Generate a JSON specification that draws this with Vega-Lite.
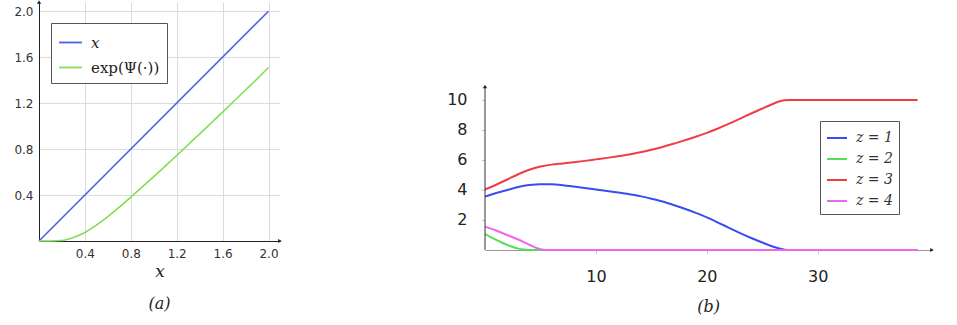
{
  "$schema": "https://vega.github.io/schema/vega-lite/v6.json",
  "padding": {"left": 13, "top": 0, "right": 0, "bottom": 0},
  "background": "white",
  "bounds": "flush",
  "spacing": 205,
  "config": {"view": {"stroke": null}},
  "datasets": {
    "a": [
      {"series": "x", "x": 0, "y": 0},
      {"series": "x", "x": 2.0, "y": 2.0},
      {"series": "exp(Ψ(·))", "x": 0, "y": 0},
      {"series": "exp(Ψ(·))", "x": 0.1, "y": 0},
      {"series": "exp(Ψ(·))", "x": 0.2, "y": 0.004},
      {"series": "exp(Ψ(·))", "x": 0.3, "y": 0.03},
      {"series": "exp(Ψ(·))", "x": 0.4, "y": 0.074},
      {"series": "exp(Ψ(·))", "x": 0.5, "y": 0.138},
      {"series": "exp(Ψ(·))", "x": 0.6, "y": 0.212},
      {"series": "exp(Ψ(·))", "x": 0.7, "y": 0.294},
      {"series": "exp(Ψ(·))", "x": 0.8, "y": 0.382},
      {"series": "exp(Ψ(·))", "x": 0.9, "y": 0.471},
      {"series": "exp(Ψ(·))", "x": 1.0, "y": 0.561},
      {"series": "exp(Ψ(·))", "x": 1.1, "y": 0.652},
      {"series": "exp(Ψ(·))", "x": 1.2, "y": 0.744},
      {"series": "exp(Ψ(·))", "x": 1.3, "y": 0.838},
      {"series": "exp(Ψ(·))", "x": 1.4, "y": 0.932},
      {"series": "exp(Ψ(·))", "x": 1.5, "y": 1.027},
      {"series": "exp(Ψ(·))", "x": 1.6, "y": 1.122},
      {"series": "exp(Ψ(·))", "x": 1.7, "y": 1.218},
      {"series": "exp(Ψ(·))", "x": 1.8, "y": 1.314},
      {"series": "exp(Ψ(·))", "x": 1.9, "y": 1.41},
      {"series": "exp(Ψ(·))", "x": 2.0, "y": 1.51}
    ],
    "b": [
      {"series": "z = 1", "t": 0, "v": 3.56}, {"series": "z = 1", "t": 1, "v": 3.8}, {"series": "z = 1", "t": 2, "v": 4.0},
      {"series": "z = 1", "t": 3, "v": 4.2}, {"series": "z = 1", "t": 4, "v": 4.33}, {"series": "z = 1", "t": 5, "v": 4.39},
      {"series": "z = 1", "t": 6, "v": 4.38}, {"series": "z = 1", "t": 7, "v": 4.32}, {"series": "z = 1", "t": 8, "v": 4.23},
      {"series": "z = 1", "t": 9, "v": 4.13}, {"series": "z = 1", "t": 10, "v": 4.03}, {"series": "z = 1", "t": 11, "v": 3.93},
      {"series": "z = 1", "t": 12, "v": 3.83}, {"series": "z = 1", "t": 13, "v": 3.72}, {"series": "z = 1", "t": 14, "v": 3.59},
      {"series": "z = 1", "t": 15, "v": 3.42}, {"series": "z = 1", "t": 16, "v": 3.23}, {"series": "z = 1", "t": 17, "v": 3.0},
      {"series": "z = 1", "t": 18, "v": 2.75}, {"series": "z = 1", "t": 19, "v": 2.47}, {"series": "z = 1", "t": 20, "v": 2.17},
      {"series": "z = 1", "t": 21, "v": 1.83}, {"series": "z = 1", "t": 22, "v": 1.48}, {"series": "z = 1", "t": 23, "v": 1.13},
      {"series": "z = 1", "t": 24, "v": 0.8}, {"series": "z = 1", "t": 25, "v": 0.5}, {"series": "z = 1", "t": 26, "v": 0.22},
      {"series": "z = 1", "t": 27, "v": 0.02}, {"series": "z = 1", "t": 27.5, "v": 0}, {"series": "z = 1", "t": 39, "v": 0},
      {"series": "z = 2", "t": 0, "v": 1.07}, {"series": "z = 2", "t": 0.5, "v": 0.86}, {"series": "z = 2", "t": 1, "v": 0.68},
      {"series": "z = 2", "t": 1.5, "v": 0.5}, {"series": "z = 2", "t": 2, "v": 0.34}, {"series": "z = 2", "t": 2.5, "v": 0.2},
      {"series": "z = 2", "t": 3, "v": 0.09}, {"series": "z = 2", "t": 3.5, "v": 0.03}, {"series": "z = 2", "t": 4, "v": 0.005},
      {"series": "z = 2", "t": 4.5, "v": 0}, {"series": "z = 2", "t": 39, "v": 0},
      {"series": "z = 3", "t": 0, "v": 4.04}, {"series": "z = 3", "t": 1, "v": 4.35}, {"series": "z = 3", "t": 2, "v": 4.7},
      {"series": "z = 3", "t": 3, "v": 5.05}, {"series": "z = 3", "t": 4, "v": 5.35}, {"series": "z = 3", "t": 5, "v": 5.56},
      {"series": "z = 3", "t": 6, "v": 5.69}, {"series": "z = 3", "t": 7, "v": 5.77}, {"series": "z = 3", "t": 8, "v": 5.85},
      {"series": "z = 3", "t": 9, "v": 5.94}, {"series": "z = 3", "t": 10, "v": 6.04}, {"series": "z = 3", "t": 11, "v": 6.14},
      {"series": "z = 3", "t": 12, "v": 6.25}, {"series": "z = 3", "t": 13, "v": 6.37}, {"series": "z = 3", "t": 14, "v": 6.51},
      {"series": "z = 3", "t": 15, "v": 6.68}, {"series": "z = 3", "t": 16, "v": 6.87}, {"series": "z = 3", "t": 17, "v": 7.08},
      {"series": "z = 3", "t": 18, "v": 7.31}, {"series": "z = 3", "t": 19, "v": 7.55}, {"series": "z = 3", "t": 20, "v": 7.81},
      {"series": "z = 3", "t": 21, "v": 8.1}, {"series": "z = 3", "t": 22, "v": 8.42}, {"series": "z = 3", "t": 23, "v": 8.76},
      {"series": "z = 3", "t": 24, "v": 9.1}, {"series": "z = 3", "t": 25, "v": 9.43}, {"series": "z = 3", "t": 26, "v": 9.75},
      {"series": "z = 3", "t": 26.5, "v": 9.9}, {"series": "z = 3", "t": 27, "v": 9.98}, {"series": "z = 3", "t": 27.5, "v": 10}, {"series": "z = 3", "t": 39, "v": 10},
      {"series": "z = 4", "t": 0, "v": 1.56}, {"series": "z = 4", "t": 1, "v": 1.3}, {"series": "z = 4", "t": 2, "v": 1.0},
      {"series": "z = 4", "t": 3, "v": 0.7}, {"series": "z = 4", "t": 4, "v": 0.35}, {"series": "z = 4", "t": 5, "v": 0.05},
      {"series": "z = 4", "t": 5.5, "v": 0}, {"series": "z = 4", "t": 39, "v": 0}
    ]
  },
  "resolve": {"scale": {"color": "independent", "x": "independent", "y": "independent"}, "legend": {"color": "independent"}},
  "hconcat": [
    {
      "width": 241,
      "height": 239,
      "title": {"text": "(a)", "orient": "bottom", "font": "DejaVu Serif", "fontStyle": "italic", "fontWeight": "normal", "fontSize": 16, "color": "#222", "offset": 17},
      "layer": [
        {
          "data": {"name": "a"},
          "mark": {"type": "line", "strokeWidth": 1.6, "interpolate": "monotone"},
          "encoding": {
            "x": {"field": "x", "type": "quantitative", "scale": {"domain": [0, 2.1], "nice": false, "zero": false},
              "axis": {"values": [0.4, 0.8, 1.2, 1.6, 2.0], "format": ".1f", "title": "x", "titleFont": "DejaVu Serif", "titleFontStyle": "italic", "titleFontWeight": "normal", "titleFontSize": 17, "titleColor": "#222", "titlePadding": 4,
                "labelFont": "DejaVu Sans", "labelFontSize": 12, "labelColor": "#333", "labelPadding": 7, "ticks": false, "domainColor": "#222", "grid": true, "gridColor": "#dcdcdc"}},
            "y": {"field": "y", "type": "quantitative", "scale": {"domain": [0, 2.08], "nice": false, "zero": false},
              "axis": {"values": [0.4, 0.8, 1.2, 1.6, 2.0], "format": ".1f", "title": null,
                "labelFont": "DejaVu Sans", "labelFontSize": 12, "labelColor": "#333", "labelPadding": 6, "ticks": false, "domainColor": "#222", "grid": true, "gridColor": "#dcdcdc"}},
            "color": {"field": "series", "type": "nominal",
              "scale": {"domain": ["x", "exp(Ψ(·))"], "range": ["#5060e0", "#80e055"]},
              "legend": {"title": null, "orient": "none", "legendX": 12, "legendY": 21, "symbolType": "stroke", "symbolSize": 520, "symbolStrokeWidth": 1.8,
                "labelFont": "DejaVu Serif", "labelFontSize": 15, "labelColor": "#222", "labelOffset": 8, "strokeColor": "#555", "fillColor": "white", "padding": 7, "rowPadding": 4,
                "encode": {"labels": {"update": {"fontStyle": {"signal": "datum.label === 'x' ? 'italic' : 'normal'"}}}}}}
          }
        },
        {
          "data": {"values": [{}]},
          "mark": {"type": "point", "shape": "triangle-right", "filled": true, "size": 18, "color": "#222", "opacity": 1},
          "encoding": {"x": {"datum": 2.1, "type": "quantitative"}, "y": {"datum": 0, "type": "quantitative"}}
        },
        {
          "data": {"values": [{}]},
          "mark": {"type": "point", "shape": "triangle-up", "filled": true, "size": 18, "color": "#222", "opacity": 1},
          "encoding": {"x": {"datum": 0, "type": "quantitative"}, "y": {"datum": 2.08, "type": "quantitative"}}
        }
      ]
    },
    {
      "width": 447,
      "height": 248,
      "title": {"text": "(b)", "orient": "bottom", "font": "DejaVu Serif", "fontStyle": "italic", "fontWeight": "normal", "fontSize": 16, "color": "#222", "offset": 15},
      "layer": [
        {
          "data": {"name": "b"},
          "mark": {"type": "line", "strokeWidth": 2, "interpolate": "monotone"},
          "encoding": {
            "x": {"field": "t", "type": "quantitative", "scale": {"domain": [0, 40.3], "nice": false, "zero": false},
              "axis": {"values": [10, 20, 30], "title": null, "labelFont": "DejaVu Sans", "labelFontSize": 16, "labelColor": "#222", "labelPadding": 14,
                "ticks": true, "tickSize": 4, "tickColor": "#ccc", "domainColor": "#999", "grid": false}},
            "y": {"field": "v", "type": "quantitative", "scale": {"domain": [0, 16.53], "nice": false, "zero": false},
              "axis": {"values": [2, 4, 6, 8, 10], "title": null, "labelFont": "DejaVu Sans", "labelFontSize": 16, "labelColor": "#222", "labelPadding": 14,
                "ticks": true, "tickSize": 4, "tickColor": "#ccc", "domain": false, "grid": false}},
            "color": {"field": "series", "type": "nominal",
              "scale": {"domain": ["z = 1", "z = 2", "z = 3", "z = 4"], "range": ["#3a4cf0", "#55dd55", "#f03c46", "#ee66ee"]},
              "legend": {"title": null, "orient": "none", "legendX": 335, "legendY": 119, "symbolType": "stroke", "symbolSize": 400, "symbolStrokeWidth": 2,
                "labelFont": "DejaVu Serif", "labelFontStyle": "italic", "labelFontSize": 14, "labelColor": "#333", "labelOffset": 8, "strokeColor": "#555", "fillColor": "white", "padding": 6, "rowPadding": 3}}
          }
        },
        {
          "data": {"values": [{}]},
          "mark": {"type": "rule", "color": "#333", "strokeWidth": 1},
          "encoding": {"x": {"datum": 0, "type": "quantitative"}, "y": {"datum": 0, "type": "quantitative"}, "y2": {"datum": 10.9}}
        },
        {
          "data": {"values": [{}]},
          "mark": {"type": "point", "shape": "triangle-right", "filled": true, "size": 18, "color": "#222", "opacity": 1},
          "encoding": {"x": {"datum": 40.3, "type": "quantitative"}, "y": {"datum": 0, "type": "quantitative"}}
        },
        {
          "data": {"values": [{}]},
          "mark": {"type": "point", "shape": "triangle-up", "filled": true, "size": 18, "color": "#222", "opacity": 1},
          "encoding": {"x": {"datum": 0, "type": "quantitative"}, "y": {"datum": 10.9, "type": "quantitative"}}
        }
      ]
    }
  ]
}
